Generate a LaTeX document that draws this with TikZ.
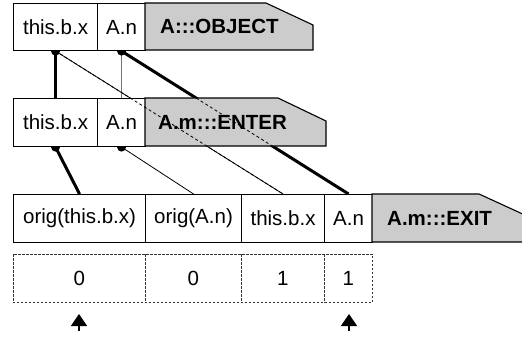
\documentclass[tikz,border=0pt]{standalone}
\usepackage{fontspec}
\setmainfont{Liberation Sans}
\usetikzlibrary{arrows.meta}
\pgfdeclarelayer{bg}
\pgfsetlayers{bg,main}
\begin{document}
\begin{tikzpicture}[x=1pt,y=-1pt,
  cell/.style={draw=black, line width=1.1pt, fill=white, anchor=north west, minimum height=48pt, inner sep=0pt, font=\fontsize{20.5}{24}\selectfont},
  vcell/.style={anchor=north west, minimum height=48pt, inner sep=0pt, font=\fontsize{20.5}{24}\selectfont},
  vline/.style={draw=black!80, dash pattern=on 2.5pt off 1.5pt, line width=0.8pt},
  tag/.style={draw=black, line width=1.1pt, fill=black!20},
  tagtext/.style={anchor=west, inner sep=0pt, font=\fontsize{20.5}{24}\selectfont\bfseries},
  thickc/.style={line width=3pt},
  thinc/.style={line width=0.8pt},
  hidden/.style={line width=0.8pt, dash pattern=on 3pt off 2.5pt},
  pointer/.style={line width=1.3pt, -{Triangle[width=16pt,length=12pt]}}
]
\useasboundingbox (0,0) rectangle (522,345);

% top row
\node[cell, minimum width=84pt, minimum height=47pt] (t1) at (13,3) {this.b.x};
\node[cell, minimum width=48pt, minimum height=47pt] (t2) at (97,3) {A.n};
\draw[tag] (145,3) -- (266,3) -- (313,25) -- (313,50) -- (145,50) -- cycle;
\node[tagtext] (tobj) at (160,26.5) {A:::OBJECT};

% middle row
\node[cell, minimum width=84pt] (m1) at (13,98) {this.b.x};
\node[cell, minimum width=48pt] (m2) at (97,98) {A.n};
\draw[tag] (145,98) -- (278,98) -- (326,121) -- (326,146) -- (145,146) -- cycle;
\node[tagtext] (tent) at (158,122) {A.m:::ENTER};

% bottom row
\node[cell, minimum width=132pt] (b1) at (13,194) {orig(this.b.x)};
\node[cell, minimum width=96pt] (b2) at (145,194) {orig(A.n)};
\node[cell, minimum width=83pt] (b3) at (241,194) {this.b.x};
\node[cell, minimum width=48pt] (b4) at (324,194) {A.n};
\draw[tag] (372,194) -- (479,194) -- (527,216) -- (527,242) -- (372,242) -- cycle;
\node[tagtext] (texit) at (387,218) {A.m:::EXIT};

% value row
\node[vcell, minimum width=132pt] (d1) at (13,254) {0};
\node[vcell, minimum width=96pt] (d2) at (145,254) {0};
\node[vcell, minimum width=83pt] (d3) at (241,254) {1};
\node[vcell, minimum width=48pt] (d4) at (324,254) {1};
\draw[vline] (d1.north west) rectangle (d4.south east);
\draw[vline] (d1.north east) -- (d1.south east);
\draw[vline] (d2.north east) -- (d2.south east);
\draw[vline] (d3.north east) -- (d3.south east);

% connectors (behind boxes)
\begin{pgfonlayer}{bg}
\draw[thickc] (t1.south) -- (m1.north);
\draw[thinc] (t1.south) -- (b3.north);
\draw[thinc, draw=black!55] (t2.south) -- (m2.north);
\draw[thickc] (t2.south) -- (b4.north);
\draw[thickc] (m1.south) -- (b1.north);
\draw[thinc] (m2.south) -- (b2.north);
\fill (t1.south) circle (4.5pt);
\fill (t2.south) circle (4.5pt);
\fill (m1.south) circle (4.5pt);
\fill (m2.south) circle (4.5pt);
\end{pgfonlayer}

% hidden parts crossing the middle row
\draw[hidden] (t1.south) -- (b3.north);
\draw[hidden] (t2.south) -- (b4.north);

% pointers
\coordinate (p1) at (79,331);
\coordinate (q1) at (79,314);
\coordinate (p2) at (349,331);
\coordinate (q2) at (349,314);
\draw[pointer] (p1) -- (q1);
\draw[pointer] (p2) -- (q2);
\end{tikzpicture}
\end{document}
